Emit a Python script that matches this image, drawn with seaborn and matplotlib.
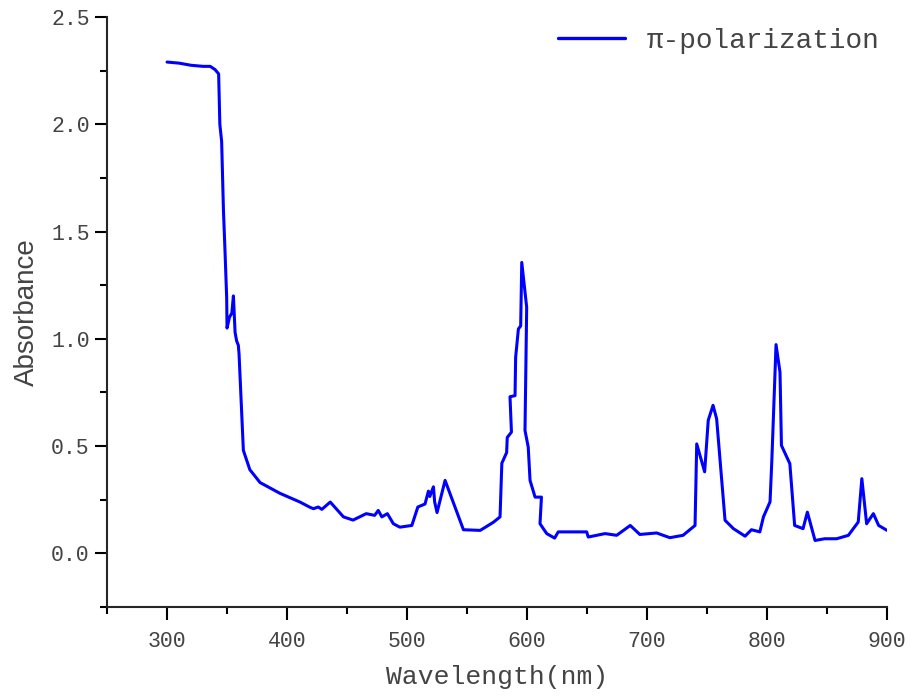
import matplotlib
matplotlib.use("Agg")
import matplotlib.pyplot as plt
import pandas as pd
import seaborn as sns
from matplotlib.ticker import MultipleLocator

# absorption spectrum, pi-polarization
wavelength = [300, 310, 320, 330, 336, 340, 343, 344, 345.5, 347, 348.3, 349.7, 350,
              352, 354, 355.3, 356.7, 358, 359.4, 360, 363.6, 369, 377.5, 394, 410.8,
              419, 422, 426, 429, 436, 447, 455, 466, 473, 476, 479, 483.6, 488.6, 494,
              504, 509, 515, 517.8, 519, 520.6, 522, 523, 525, 531.7, 547, 561, 572,
              577.5, 579, 583, 583.5, 587, 585.8, 590, 590.5, 592.8, 594.7, 595.6, 599.7,
              598.3, 601, 602.5, 606.7, 612, 610.8, 616.4, 623, 626, 649.7, 651, 665,
              674.7, 686, 694, 708, 719, 730, 740, 741.4, 748, 751, 755, 758, 765, 772,
              781.7, 787, 794, 797, 802.5, 804, 807.5, 810.8, 812, 819, 823, 830, 833.6,
              840, 848, 858, 867.8, 876, 879, 883, 888.6, 893, 900]
absorbance = [2.29, 2.285, 2.275, 2.27, 2.27, 2.255, 2.235, 2.0, 1.92, 1.6, 1.41, 1.19, 1.05,
              1.10, 1.12, 1.20, 1.03, 0.99, 0.97, 0.93, 0.48, 0.39, 0.33, 0.28, 0.239,
              0.215, 0.208, 0.216, 0.205, 0.239, 0.17, 0.155, 0.185, 0.177, 0.2, 0.17, 0.185, 0.138, 0.122,
              0.13, 0.216, 0.23, 0.29, 0.265, 0.29, 0.31, 0.24, 0.19, 0.34, 0.11, 0.107, 0.145,
              0.17, 0.42, 0.47, 0.54, 0.565, 0.73, 0.735, 0.914, 1.046, 1.06, 1.356, 1.147,
              0.573, 0.495, 0.34, 0.262, 0.262, 0.138, 0.092, 0.071, 0.1, 0.1, 0.076, 0.092,
              0.084, 0.13, 0.088, 0.095, 0.073, 0.084, 0.13, 0.51, 0.38, 0.62, 0.69, 0.627, 0.154, 0.115,
              0.08, 0.11, 0.1, 0.17, 0.24, 0.433, 0.973, 0.844, 0.503, 0.418, 0.13, 0.115, 0.192,
              0.06, 0.068, 0.068, 0.084, 0.146, 0.348, 0.138, 0.185, 0.13, 0.107]
series_name = "π-polarization"

df = pd.DataFrame({"Wavelength": wavelength, "Absorbance": absorbance, "series": series_name})

sns.set_style("ticks")
plt.rcParams["font.family"] = ["Liberation Mono", "DejaVu Sans Mono"]
plt.rcParams["axes.linewidth"] = 1.5

fig = plt.figure(figsize=(9.11, 7), dpi=100)
ax = fig.add_axes([0.1175, 0.1329, 0.8562, 0.8428])

sns.lineplot(data=df, x="Wavelength", y="Absorbance", hue="series", palette=["#0000ff"],
             sort=False, estimator=None, linewidth=2.2, ax=ax)

ax.set_xlim(250, 900)
ax.set_ylim(-0.25, 2.5)
ax.xaxis.set_minor_locator(MultipleLocator(50))
ax.yaxis.set_major_locator(MultipleLocator(0.5))
ax.yaxis.set_minor_locator(MultipleLocator(0.25))
ax.set_xticks(range(300, 901, 100))
ax.yaxis.set_major_formatter(matplotlib.ticker.FormatStrFormatter("%.1f"))

ax.tick_params(which="major", direction="out", length=9, width=1.5, labelsize=15.5,
               labelcolor="#444444", color="black")
ax.tick_params(which="minor", direction="out", length=5, width=1.5, color="black")
ax.tick_params(axis="x", pad=8)

for s in ["top", "right"]:
    ax.spines[s].set_visible(False)

ax.set_xlabel("Wavelength(nm)", fontsize=19, color="#444444", labelpad=10)
ax.set_ylabel("Absorbance", fontsize=20, color="#444444", family="Liberation Sans", labelpad=8)

leg = ax.legend(loc="upper right", frameon=False, fontsize=20, handlelength=2.4,
                handletextpad=0.8, borderaxespad=0.0, bbox_to_anchor=(1.005, 1.0))
for t in leg.get_texts():
    t.set_color("#444444")
for h in leg.get_lines():
    h.set_linewidth(2.4)

fig.savefig("out.png", dpi=100)
